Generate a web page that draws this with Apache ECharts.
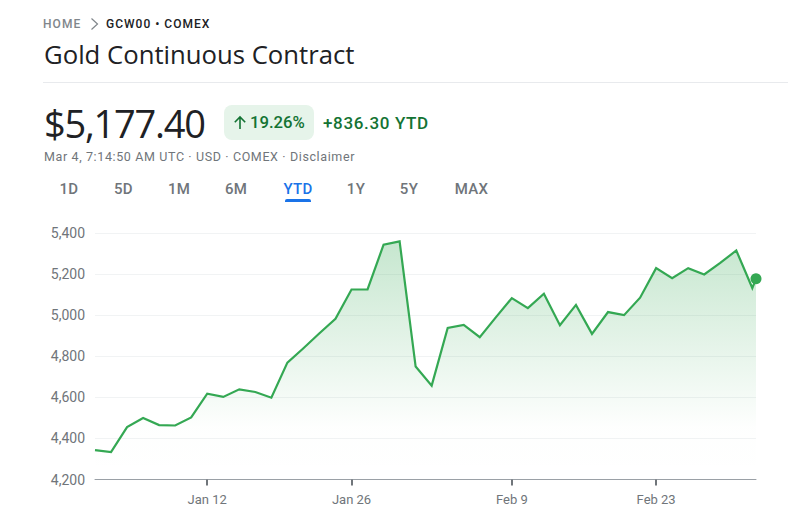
<!DOCTYPE html>
<html>
<head>
<meta charset="utf-8">
<script src="https://cdn.jsdelivr.net/npm/echarts@6/dist/echarts.min.js"></script>
<style>
html,body{margin:0;padding:0;background:#fff;width:788px;height:520px;overflow:hidden}
.t{position:absolute;white-space:nowrap;line-height:1;font-family:Roboto,sans-serif}
#chart{position:absolute;left:0;top:0;width:788px;height:520px}
.tab{position:absolute;top:181px;width:60px;margin-left:-30px;text-align:center;font:500 15px/16px Roboto,sans-serif;color:#70757a;letter-spacing:.3px}
</style>
</head>
<body>
<div id="chart"></div>
<div class="t" style="left:43px;top:18px;font-size:12px;font-weight:500;letter-spacing:1.1px;color:#80868b">HOME</div>
<svg style="position:absolute;left:89px;top:17px" width="12" height="14"><path d="M2.5 1.5 L8.5 7 L2.5 12.5" fill="none" stroke="#80868b" stroke-width="1.2"/></svg>
<div class="t" style="left:106px;top:18px;font-size:12px;font-weight:500;letter-spacing:1px;color:#202124">GCW00 • COMEX</div>
<div class="t" style="left:44px;top:41.5px;font-family:'Open Sans',sans-serif;font-size:25.7px;color:#202124">Gold Continuous Contract</div>
<div style="position:absolute;left:43px;top:82px;width:745px;height:1px;background:#e8eaed"></div>
<div class="t" style="left:44px;top:104px;font-family:'Open Sans',sans-serif;font-size:38px;letter-spacing:-1.25px;color:#202124">$5,177.40</div>
<div style="position:absolute;left:224px;top:105px;width:90px;height:35px;border-radius:8px;background:#e6f4ea"></div>
<svg style="position:absolute;left:233px;top:115px" width="15" height="16"><path d="M7 14 V2 M1.8 7.2 L7 2 L12.2 7.2" fill="none" stroke="#137333" stroke-width="1.6"/></svg>
<div class="t" style="left:250px;top:114.5px;font-size:16.7px;font-weight:500;color:#137333">19.26%</div>
<div class="t" style="left:323px;top:115px;font-size:17px;font-weight:500;letter-spacing:.65px;color:#137333">+836.30 YTD</div>
<div class="t" style="left:44px;top:151px;font-size:12.5px;letter-spacing:.62px;color:#70757a">Mar 4, 7:14:50 AM UTC · USD · COMEX · Disclaimer</div>
<div class="tab" style="left:69px">1D</div>
<div class="tab" style="left:123.5px">5D</div>
<div class="tab" style="left:179px">1M</div>
<div class="tab" style="left:236px">6M</div>
<div class="tab" style="left:298px;color:#1a73e8">YTD</div>
<div class="tab" style="left:356px">1Y</div>
<div class="tab" style="left:409px">5Y</div>
<div class="tab" style="left:471.5px">MAX</div>
<div style="position:absolute;left:285px;top:199px;width:26px;height:3px;border-radius:2px 2px 0 0;background:#1a73e8"></div>
<script>
// Closing values by trading session.
const sessions = [0,1,2,3,4,5,6,7,8,9,10,11,12,13,14,15,16,17,18,19,20,21,22,23,24,25,26,27,28,29,30,31,32,33,34,35,36,37,38,39,40,41,41.23];
const prices = [4343,4333,4455,4499,4465,4463,4502,4618,4602,4639,4626,4598,4769,4839,4912,4982,5125,5125,5343,5359,4750,4657,4938,4953,4893,4989,5083,5034,5104,4951,5050,4909,5015,5000,5085,5229,5180,5229,5198,5254,5315,5132,5177.4];
const tickSessions = [7,16,26,35];
const tickLabels = ['Jan 12','Jan 26','Feb 9','Feb 23'];
const yMin = 4200, yMax = 5400, yStep = 200;
const lastSession = sessions[sessions.length-1];
const lastPrice = prices[prices.length-1];

const chart = echarts.init(document.getElementById('chart'), null, {renderer:'svg'});
chart.setOption({
  animation:false,
  grid:{left:95,top:233,width:661,height:246.5,containLabel:false},
  xAxis:{type:'value',min:0,max:lastSession,splitLine:{show:false},
    axisLine:{show:true,onZero:false,lineStyle:{color:'#9aa0a6',width:1}},
    axisTick:{show:true,customValues:tickSessions,length:6,lineStyle:{color:'#70757a',width:2}},
    axisLabel:{show:true,customValues:tickSessions,margin:13,fontFamily:'Roboto',fontSize:13,color:'#70757a',
      formatter:v=>tickLabels[tickSessions.indexOf(v)]||''}},
  yAxis:{type:'value',min:yMin,max:yMax,interval:yStep,axisLine:{show:false},axisTick:{show:false},
    splitLine:{lineStyle:{color:'#f1f3f4',width:1}},
    axisLabel:{margin:10,fontFamily:'Roboto',fontSize:14,color:'#70757a',
      formatter:v=>v.toLocaleString('en-US')}},
  series:[
    {type:'line',data:sessions.map((s,i)=>[s,prices[i]]),showSymbol:false,clip:false,z:2,
      lineStyle:{color:'#34a853',width:2.2,join:'miter'},
      areaStyle:{color:new echarts.graphic.LinearGradient(0,0,0,1,[
        {offset:0,color:'rgba(52,168,83,0.40)'},
        {offset:0.78,color:'rgba(52,168,83,0.01)'},
        {offset:1,color:'rgba(52,168,83,0)'}])}},
    {type:'scatter',data:[[lastSession,lastPrice]],symbolSize:11,clip:false,z:3,silent:true,
      itemStyle:{color:'#34a853',opacity:1}}
  ]
});
</script>
</body>
</html>
